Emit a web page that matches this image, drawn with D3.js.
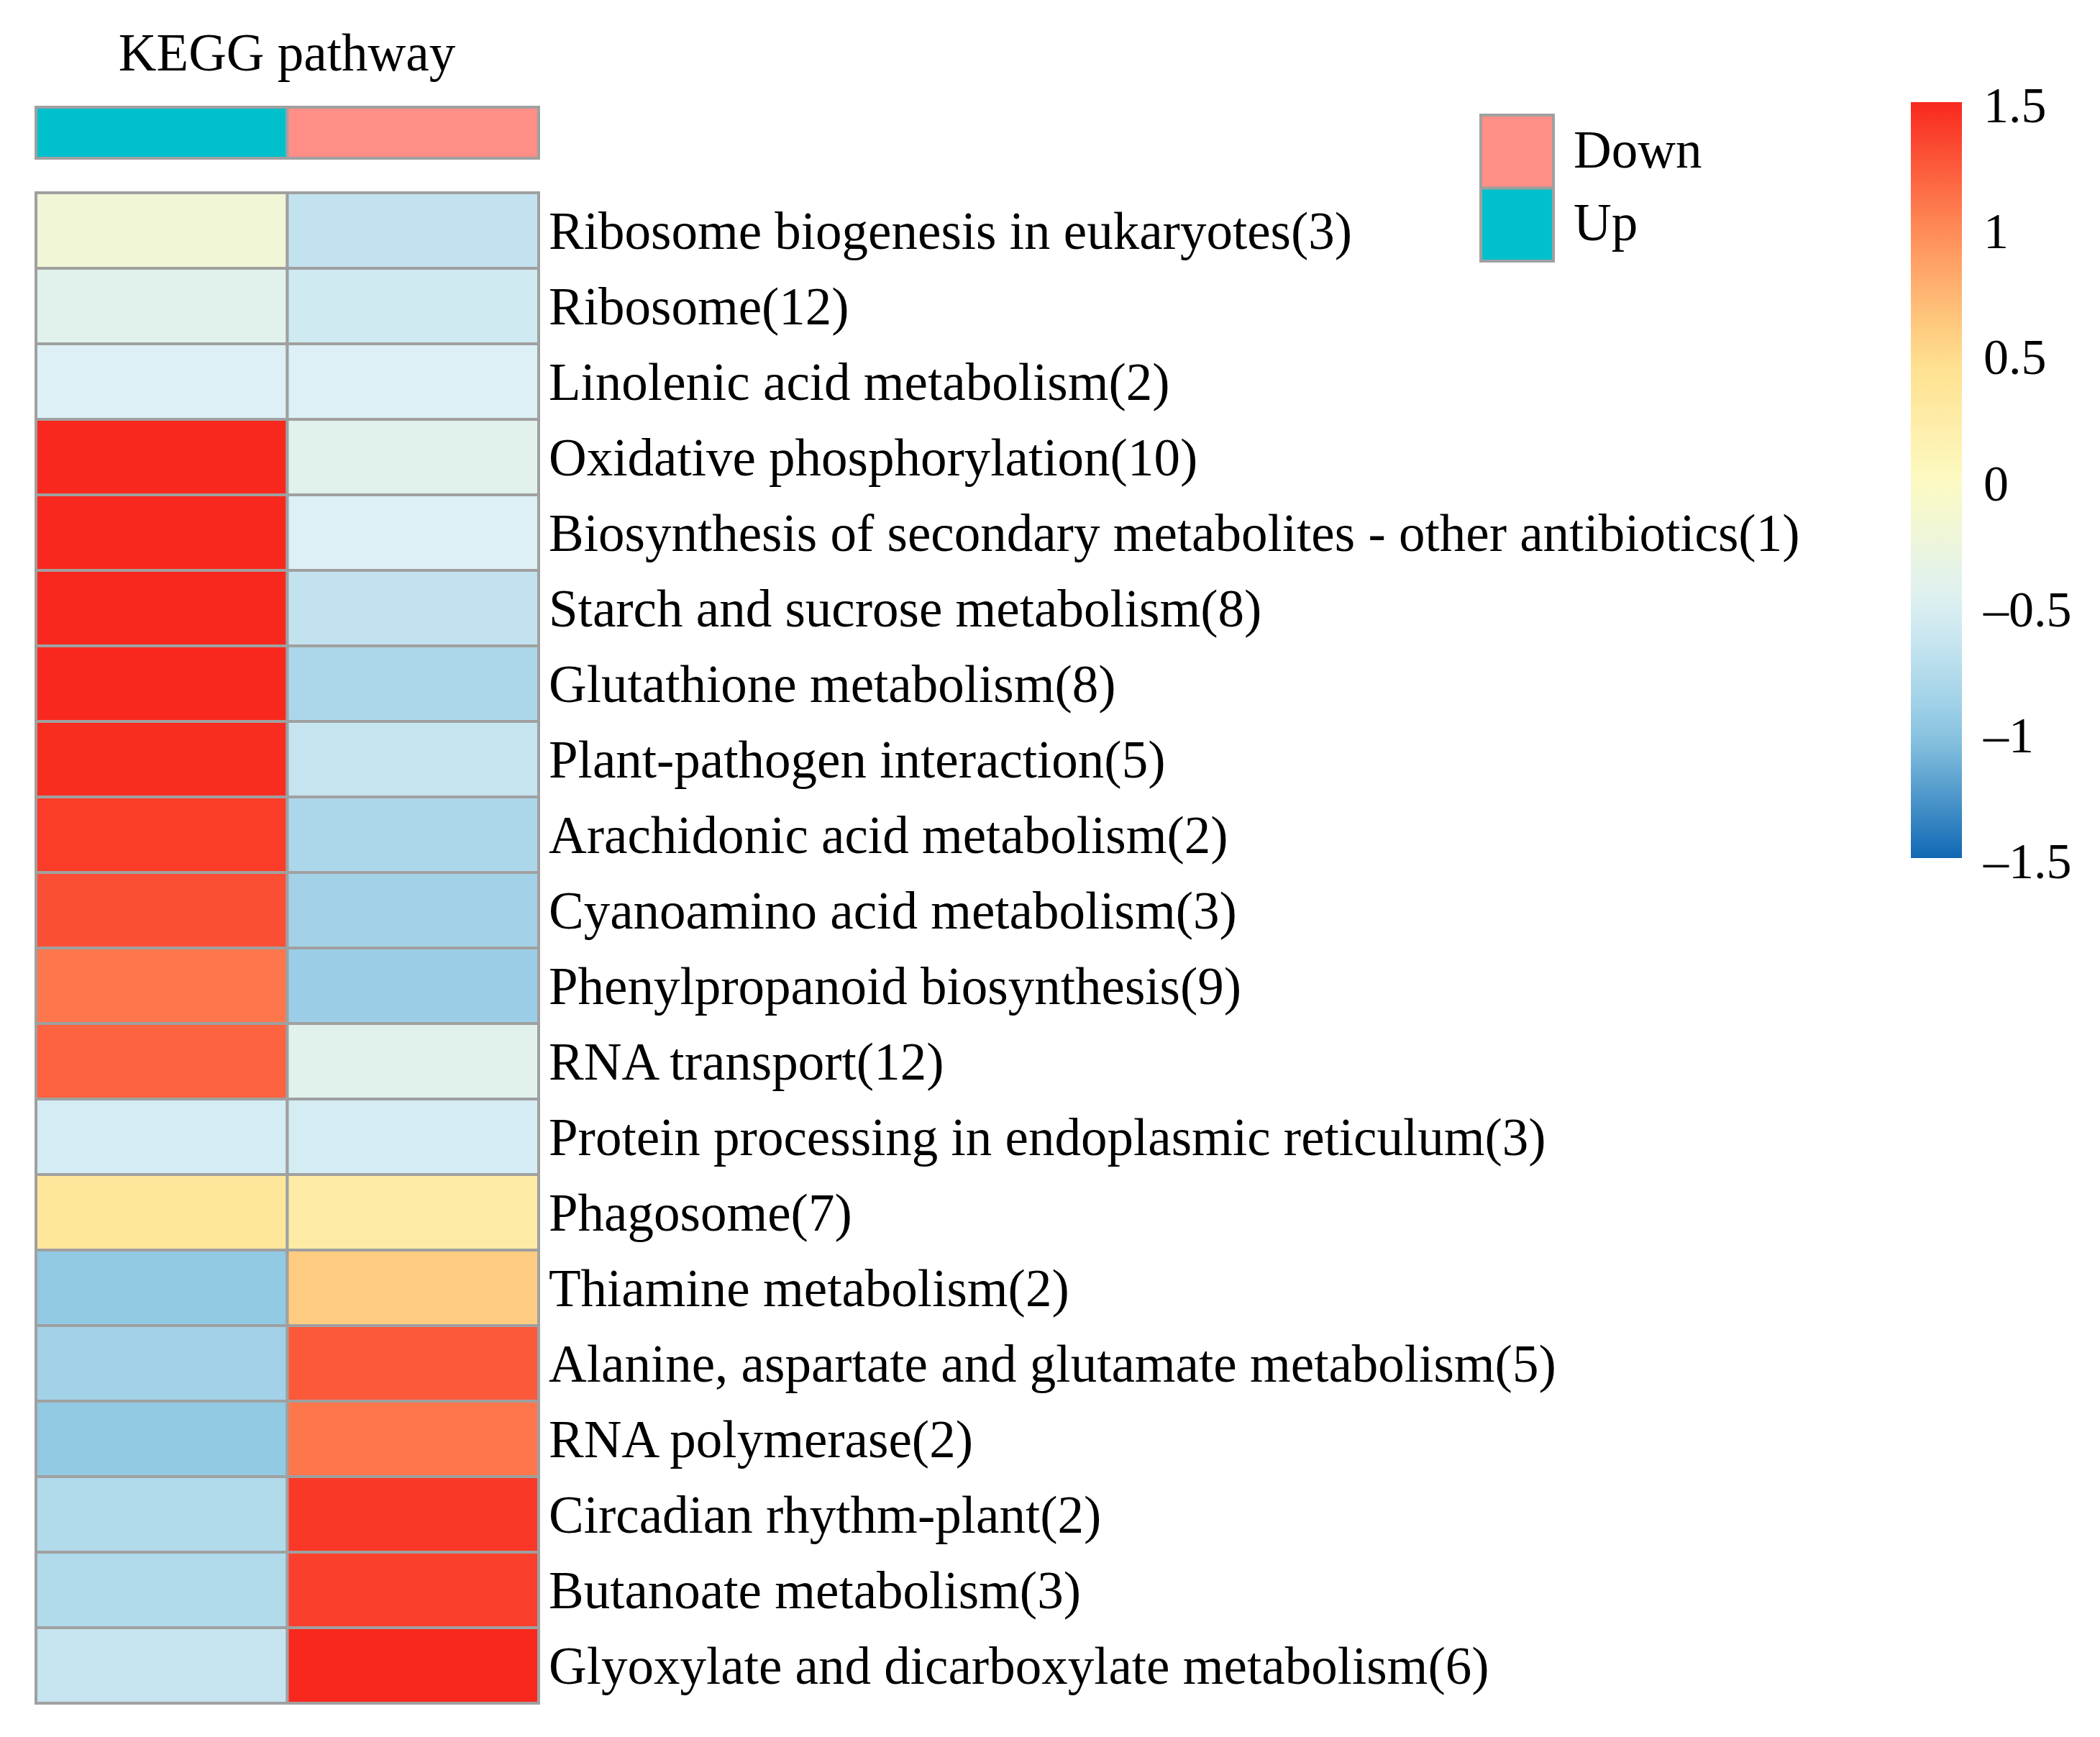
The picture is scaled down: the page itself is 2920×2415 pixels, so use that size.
<!DOCTYPE html>
<html>
<head>
<meta charset="utf-8">
<script src="https://cdn.jsdelivr.net/npm/d3@7"></script>
<style>
  body { margin: 0; background: #fff; }
  text { font-family: "Liberation Serif", "Times New Roman", serif; fill: #000; }
</style>
</head>
<body>
<svg id="chart" width="2920" height="2415"></svg>
<script>
// pathways, top to bottom
var pathways = [
  "Ribosome biogenesis in eukaryotes(3)",
  "Ribosome(12)",
  "Linolenic acid metabolism(2)",
  "Oxidative phosphorylation(10)",
  "Biosynthesis of secondary metabolites - other antibiotics(1)",
  "Starch and sucrose metabolism(8)",
  "Glutathione metabolism(8)",
  "Plant-pathogen interaction(5)",
  "Arachidonic acid metabolism(2)",
  "Cyanoamino acid metabolism(3)",
  "Phenylpropanoid biosynthesis(9)",
  "RNA transport(12)",
  "Protein processing in endoplasmic reticulum(3)",
  "Phagosome(7)",
  "Thiamine metabolism(2)",
  "Alanine, aspartate and glutamate metabolism(5)",
  "RNA polymerase(2)",
  "Circadian rhythm-plant(2)",
  "Butanoate metabolism(3)",
  "Glyoxylate and dicarboxylate metabolism(6)"
];
var groups = ["Up", "Down"];
var upValues   = [-0.2, -0.42, -0.5, 1.5, 1.5, 1.5, 1.5, 1.48, 1.4, 1.3, 1.1, 1.2, -0.55, 0.35, -0.98, -0.87, -0.98, -0.78, -0.78, -0.65];
var downValues = [-0.67, -0.58, -0.5, -0.42, -0.5, -0.67, -0.81, -0.65, -0.81, -0.87, -0.92, -0.42, -0.55, 0.25, 0.6, 1.25, 1.1, 1.42, 1.38, 1.5];
var colorTicks = [1.5, 1, 0.5, 0, -0.5, -1, -1.5];
var groupColors = {"Up": "#00C0CB", "Down": "#FF8E87"};

var svg = d3.select("#chart");

var color = d3.scaleLinear()
  .domain([-1.5, -1, -0.5, 0, 0.5, 1, 1.5])
  .range(["#1068b4", "#8fc8e3", "#dcf0f5", "#fdfac2", "#fedd8a", "#ff8a57", "#f9281e"])
  .clamp(true);

var x = d3.scaleBand().domain(groups).range([50, 749]);
var y = d3.scaleBand().domain(pathways).range([268, 268 + 105 * pathways.length]);

var cells = [];
pathways.forEach(function(p, i) {
  cells.push({path: p, group: "Up", value: upValues[i]});
  cells.push({path: p, group: "Down", value: downValues[i]});
});

// title
svg.append("text")
  .attr("x", 399).attr("y", 98)
  .attr("text-anchor", "middle")
  .attr("font-size", 73)
  .text("KEGG pathway");

// group annotation bar
svg.append("g").selectAll("rect")
  .data(groups)
  .join("rect")
  .attr("x", function(d) { return x(d); })
  .attr("y", 149)
  .attr("width", x.bandwidth())
  .attr("height", 71)
  .attr("fill", function(d) { return groupColors[d]; })
  .attr("stroke", "#a0a0a0")
  .attr("stroke-width", 4);

// heatmap cells
svg.append("g").selectAll("rect")
  .data(cells)
  .join("rect")
  .attr("x", function(d) { return x(d.group); })
  .attr("y", function(d) { return y(d.path); })
  .attr("width", x.bandwidth())
  .attr("height", y.bandwidth())
  .attr("fill", function(d) { return color(d.value); })
  .attr("stroke", "#a0a0a0")
  .attr("stroke-width", 4);

// row labels
svg.append("g").selectAll("text")
  .data(pathways)
  .join("text")
  .attr("x", 763)
  .attr("y", function(d) { return y(d) + y.bandwidth() / 2 + 25; })
  .attr("font-size", 73)
  .text(function(d) { return d; });

// group legend
var legendY = d3.scaleBand().domain(["Down", "Up"]).range([160, 363]);
var leg = svg.append("g");
leg.selectAll("rect")
  .data(legendY.domain())
  .join("rect")
  .attr("x", 2059)
  .attr("y", function(d) { return legendY(d); })
  .attr("width", 101)
  .attr("height", legendY.bandwidth())
  .attr("fill", function(d) { return groupColors[d]; })
  .attr("stroke", "#a0a0a0")
  .attr("stroke-width", 4);
leg.selectAll("text")
  .data(legendY.domain())
  .join("text")
  .attr("x", 2188)
  .attr("y", function(d) { return legendY(d) + legendY.bandwidth() / 2 + 22; })
  .attr("font-size", 73)
  .text(function(d) { return d; });

// colour bar
var cb = d3.scaleLinear().domain([1.5, -1.5]).range([142, 1193]);
var grad = svg.append("defs").append("linearGradient")
  .attr("id", "cbar")
  .attr("x1", 0).attr("y1", 0).attr("x2", 0).attr("y2", 1);
d3.range(0, 1.0001, 0.05).forEach(function(t) {
  grad.append("stop")
    .attr("offset", t)
    .attr("stop-color", color(1.5 - 3 * t));
});
svg.append("rect")
  .attr("x", 2657).attr("y", cb(1.5))
  .attr("width", 71).attr("height", cb(-1.5) - cb(1.5))
  .attr("fill", "url(#cbar)");

svg.append("g").selectAll("text")
  .data(colorTicks)
  .join("text")
  .attr("x", 2758)
  .attr("y", function(d) { return cb(d) + 28; })
  .attr("font-size", 70)
  .text(function(d) { return d < 0 ? "\u2013" + Math.abs(d) : String(d); });
</script>
</body>
</html>
